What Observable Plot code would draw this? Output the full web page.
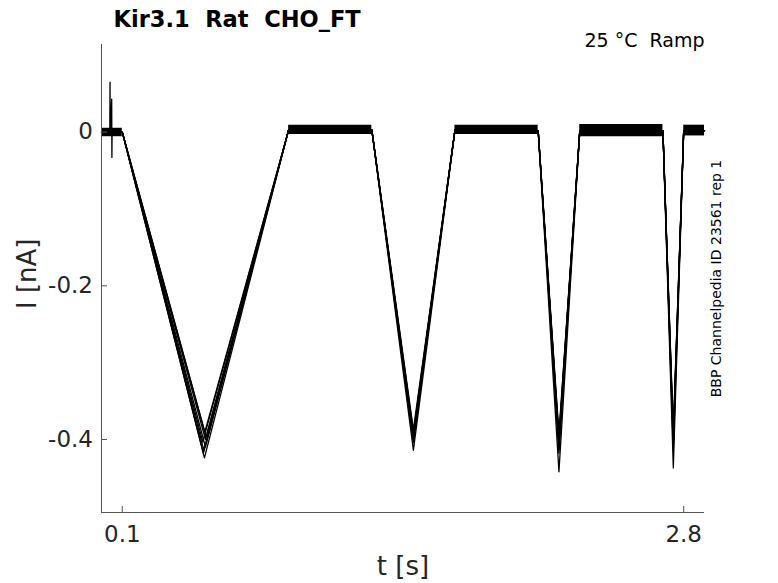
<!DOCTYPE html>
<html>
<head>
<meta charset="utf-8">
<script src="https://cdn.jsdelivr.net/npm/d3@7"></script>
<script src="https://cdn.jsdelivr.net/npm/@observablehq/plot@0.6"></script>
<style>
  html, body { margin: 0; padding: 0; background: #fff; }
  svg text { white-space: pre; }
</style>
</head>
<body>
<div id="chart"></div>
<script>
// ---- data ----
const xDomain = [0, 2.9];
const yDomain = [-0.495, 0.114];
const xTicks = [0.1, 2.8];
const yTicks = [-0.4, -0.2, 0];

// key times of the ramp protocol (s)
const keyTimes = [0, 0.1, 0.5, 0.9, 1.3, 1.5, 1.7, 2.1, 2.2, 2.3, 2.7, 2.75, 2.8, 2.9];
// time of first trough for each sweep
const trough1Times = [0.495, 0.49, 0.50, 0.487, 0.503, 0.497, 0.492, 0.50];

// current (nA) of each sweep at keyTimes
const sweep1 = [0, 0, -0.424, 0.003, 0.003, -0.414, 0.003, 0.002, -0.442, 0.001, 0.002, -0.437, 0.002, 0.002];
const sweep2 = [0, 0, -0.418, 0.003, 0.003, -0.404, 0.003, 0.002, -0.412, 0.001, 0.002, -0.410, 0.002, 0.002];
const sweep3 = [0, 0, -0.410, 0.003, 0.003, -0.399, 0.003, 0.002, -0.405, 0.001, 0.002, -0.402, 0.002, 0.002];
const sweep4 = [0, 0, -0.403, 0.003, 0.003, -0.395, 0.003, 0.002, -0.400, 0.001, 0.002, -0.396, 0.002, 0.002];
const sweep5 = [0, 0, -0.397, 0.003, 0.003, -0.391, 0.003, 0.002, -0.396, 0.001, 0.002, -0.392, 0.002, 0.002];
const sweep6 = [0, 0, -0.390, 0.003, 0.003, -0.387, 0.003, 0.002, -0.392, 0.001, 0.002, -0.388, 0.002, 0.002];
const sweep7 = [0, 0, -0.414, 0.003, 0.003, -0.402, 0.003, 0.002, -0.418, 0.001, 0.002, -0.415, 0.002, 0.002];
const sweep8 = [0, 0, -0.400, 0.003, 0.003, -0.393, 0.003, 0.002, -0.402, 0.001, 0.002, -0.399, 0.002, 0.002];
const sweeps = [sweep1, sweep2, sweep3, sweep4, sweep5, sweep6, sweep7, sweep8];

// noise band on the flat (holding) segments
const bandStart = [0, 0.9, 1.7, 2.3, 2.8];
const bandEnd = [0.1, 1.3, 2.1, 2.7, 2.9];
const bandLow = [-0.006, -0.003, -0.003, -0.006, -0.005];
const bandHigh = [0.005, 0.009, 0.009, 0.010, 0.009];

// capacitive artifact at the start
const artifactT = [0.040, 0.041, 0.042, 0.043, 0.049, 0.050, 0.051, 0.052];
const artifactI = [0, 0.065, 0, 0, 0.043, -0.033, 0, 0];

const titleText = "Kir3.1  Rat  CHO_FT";
const condText = "25 °C  Ramp";
const sideText = "BBP Channelpedia ID 23561 rep 1";
const xLabel = "t [s]";
const yLabel = "I [nA]";

// ---- build tables ----
const rows = [];
sweeps.forEach((s, k) => keyTimes.forEach((t, i) => rows.push({sweep: k, t: i === 2 ? trough1Times[k] : t, I: s[i]})));
const bandRows = [];
bandStart.forEach((s, i) => {
  bandRows.push({seg: i, t: s, lo: bandLow[i], hi: bandHigh[i]});
  bandRows.push({seg: i, t: bandEnd[i], lo: bandLow[i], hi: bandHigh[i]});
});
const artifactRows = artifactT.map((t, i) => ({t, I: artifactI[i]}));

const fmt = d => d === 0 ? "0" : d.toFixed(1);
const axisColor = "#555";
const textColor = "#262626";

const chart = Plot.plot({
  width: 778,
  height: 583,
  marginLeft: 101,
  marginRight: 74,
  marginTop: 44,
  marginBottom: 71,
  style: {fontFamily: "DejaVu Sans", background: "#fff", color: textColor},
  x: {domain: xDomain},
  y: {domain: yDomain},
  marks: [
    Plot.areaY(bandRows, {x: "t", y1: "lo", y2: "hi", z: "seg", fill: "black"}),
    Plot.line(rows, {x: "t", y: "I", z: "sweep", stroke: "black", strokeWidth: 1.3}),
    Plot.line(artifactRows, {x: "t", y: "I", stroke: "black", strokeWidth: 1.3}),
    Plot.ruleX([xDomain[0]], {stroke: axisColor}),
    Plot.ruleY([yDomain[0]], {stroke: axisColor}),
    Plot.tickY(yTicks, {y: d => d, insetRight: 597, stroke: axisColor}),
    Plot.tickX(xTicks, {x: d => d, insetTop: 462, stroke: axisColor}),
    Plot.axisY({ticks: yTicks, tickSize: 0, tickPadding: 8.5, tickFormat: fmt, fontSize: 23, label: null, fill: textColor}),
    Plot.axisX({ticks: xTicks, tickSize: 0, tickPadding: 13, tickFormat: d => d.toFixed(1), fontSize: 23, label: null, fill: textColor}),
    Plot.text([xLabel], {text: d => d, frameAnchor: "bottom", dy: 62.4, textAnchor: "middle", lineAnchor: "bottom", fontSize: 26, fill: textColor}),
    Plot.text([yLabel], {text: d => d, frameAnchor: "left", dx: -65.4, dy: -4.7, rotate: -90, textAnchor: "middle", lineAnchor: "bottom", fontSize: 26, fill: textColor}),
    Plot.text([titleText], {text: d => d, frameAnchor: "top-left", dx: 12, dy: -18, textAnchor: "start", lineAnchor: "bottom", fontSize: 22.5, fontWeight: "bold", fill: "#000"}),
    Plot.text([condText], {text: d => d, frameAnchor: "top-right", dx: 0, dy: 2.7, textAnchor: "end", lineAnchor: "bottom", fontSize: 19, fill: "#000"}),
    Plot.text([sideText], {text: d => d, frameAnchor: "right", dx: 16, rotate: -90, textAnchor: "middle", lineAnchor: "bottom", fontSize: 14, fill: "#000"})
  ]
});
document.getElementById("chart").appendChild(chart);
</script>
</body>
</html>
